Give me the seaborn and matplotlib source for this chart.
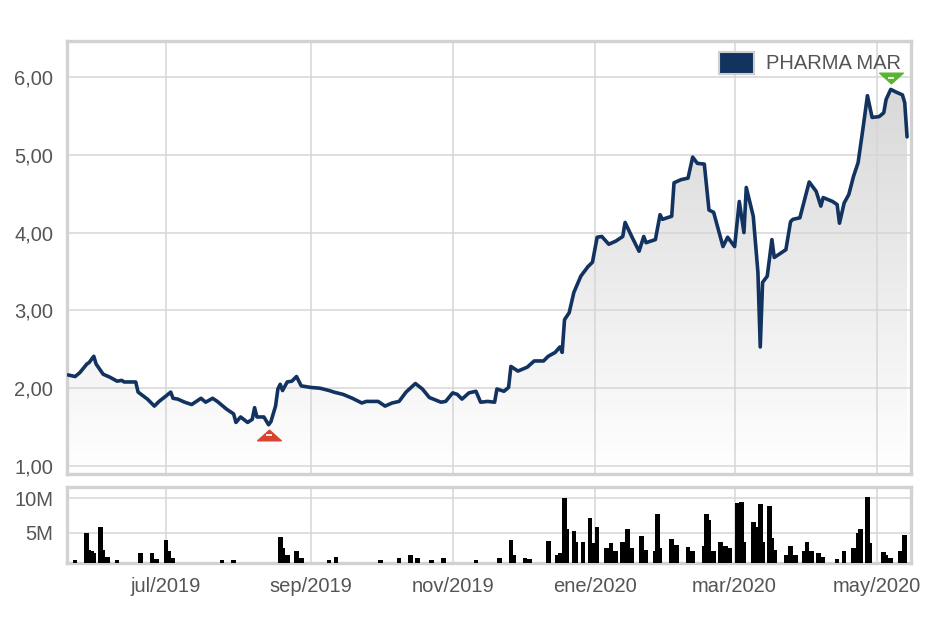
import numpy as np
import pandas as pd
import matplotlib
matplotlib.use("Agg")
import matplotlib.pyplot as plt
import matplotlib.dates as mdates
import matplotlib.transforms as mtransforms
from matplotlib.patches import Patch, PathPatch
from matplotlib.path import Path
from matplotlib.colors import LinearSegmentedColormap
from matplotlib.ticker import FixedLocator, FixedFormatter
import seaborn as sns

# ---------------- data ----------------
price_dates = [
    "2019-05-20", "2019-05-23", "2019-05-25", "2019-05-28", "2019-05-29", "2019-05-31", "2019-06-01",
    "2019-06-04", "2019-06-07", "2019-06-10", "2019-06-12", "2019-06-13", "2019-06-18", "2019-06-19",
    "2019-06-23", "2019-06-26", "2019-06-28", "2019-07-01", "2019-07-03", "2019-07-04", "2019-07-06",
    "2019-07-09", "2019-07-12", "2019-07-16", "2019-07-18", "2019-07-21", "2019-07-23", "2019-07-27",
    "2019-07-30", "2019-07-31", "2019-08-02", "2019-08-05", "2019-08-07", "2019-08-08", "2019-08-09",
    "2019-08-12", "2019-08-14", "2019-08-15", "2019-08-17", "2019-08-18", "2019-08-19", "2019-08-20",
    "2019-08-22", "2019-08-24", "2019-08-26", "2019-08-28", "2019-09-01", "2019-09-05", "2019-09-09",
    "2019-09-11", "2019-09-15", "2019-09-19", "2019-09-23", "2019-09-25", "2019-09-30", "2019-10-03",
    "2019-10-06", "2019-10-09", "2019-10-12", "2019-10-16", "2019-10-19", "2019-10-22", "2019-10-27",
    "2019-10-29", "2019-11-01", "2019-11-03", "2019-11-05", "2019-11-08", "2019-11-11", "2019-11-13",
    "2019-11-16", "2019-11-19", "2019-11-20", "2019-11-23", "2019-11-25", "2019-11-26", "2019-11-29",
    "2019-12-03", "2019-12-06", "2019-12-10", "2019-12-12", "2019-12-15", "2019-12-17", "2019-12-18",
    "2019-12-19", "2019-12-21", "2019-12-23", "2019-12-26", "2019-12-29", "2019-12-31", "2020-01-02",
    "2020-01-04", "2020-01-07", "2020-01-10", "2020-01-13", "2020-01-14", "2020-01-17", "2020-01-20",
    "2020-01-22", "2020-01-23", "2020-01-27", "2020-01-29", "2020-01-30", "2020-02-03", "2020-02-04",
    "2020-02-07", "2020-02-10", "2020-02-12", "2020-02-14", "2020-02-17", "2020-02-19", "2020-02-21",
    "2020-02-25", "2020-02-27", "2020-03-01", "2020-03-03", "2020-03-05", "2020-03-06", "2020-03-09",
    "2020-03-11", "2020-03-12", "2020-03-13", "2020-03-15", "2020-03-17", "2020-03-18", "2020-03-20",
    "2020-03-23", "2020-03-25", "2020-03-26", "2020-03-29", "2020-04-02", "2020-04-05", "2020-04-07",
    "2020-04-08", "2020-04-12", "2020-04-14", "2020-04-15", "2020-04-17", "2020-04-19", "2020-04-21",
    "2020-04-23", "2020-04-25", "2020-04-27", "2020-04-29", "2020-05-02", "2020-05-04", "2020-05-05",
    "2020-05-07", "2020-05-09", "2020-05-12", "2020-05-13", "2020-05-14",
]
price_values = [
    2.17, 2.15, 2.20, 2.31, 2.33, 2.41, 2.31,
    2.18, 2.14, 2.09, 2.10, 2.08, 2.08, 1.95,
    1.86, 1.77, 1.83, 1.90, 1.95, 1.87, 1.86,
    1.82, 1.79, 1.87, 1.82, 1.87, 1.83, 1.73,
    1.67, 1.56, 1.63, 1.56, 1.60, 1.75, 1.63,
    1.63, 1.53, 1.57, 1.77, 1.99, 2.05, 1.97,
    2.08, 2.09, 2.15, 2.03, 2.01, 2.00, 1.97,
    1.95, 1.92, 1.87, 1.81, 1.83, 1.83, 1.77,
    1.81, 1.83, 1.95, 2.06, 1.99, 1.88, 1.82,
    1.83, 1.94, 1.92, 1.86, 1.94, 1.96, 1.82,
    1.83, 1.82, 1.99, 1.96, 2.01, 2.28, 2.22,
    2.27, 2.35, 2.35, 2.41, 2.46, 2.53, 2.46,
    2.88, 2.97, 3.23, 3.44, 3.56, 3.62, 3.94,
    3.95, 3.85, 3.89, 3.95, 4.13, 3.94, 3.76,
    3.95, 3.87, 3.91, 4.23, 4.17, 4.21, 4.64,
    4.68, 4.70, 4.97, 4.89, 4.88, 4.29, 4.26,
    3.82, 3.94, 3.82, 4.40, 4.00, 4.58, 4.21,
    3.49, 2.53, 3.36, 3.44, 3.91, 3.68, 3.72,
    3.78, 4.14, 4.17, 4.19, 4.65, 4.53, 4.34,
    4.45, 4.40, 4.36, 4.12, 4.38, 4.49, 4.72,
    4.90, 5.32, 5.76, 5.48, 5.49, 5.54, 5.71,
    5.84, 5.81, 5.77, 5.67, 5.23,
]

vol_dates = [
    "2019-05-23", "2019-05-28", "2019-05-29", "2019-05-30", "2019-05-31", "2019-06-03", "2019-06-04",
    "2019-06-06", "2019-06-10", "2019-06-20", "2019-06-25", "2019-06-27", "2019-07-01", "2019-07-02",
    "2019-07-04", "2019-07-25", "2019-07-30", "2019-08-19", "2019-08-20", "2019-08-22", "2019-08-26",
    "2019-08-28", "2019-09-09", "2019-09-12", "2019-10-01", "2019-10-09", "2019-10-14", "2019-10-17",
    "2019-10-23", "2019-10-28", "2019-11-11", "2019-11-21", "2019-11-26", "2019-11-27", "2019-12-02",
    "2019-12-04", "2019-12-12", "2019-12-16", "2019-12-17", "2019-12-19", "2019-12-20", "2019-12-23",
    "2019-12-24", "2019-12-27", "2019-12-30", "2019-12-31", "2020-01-02", "2020-01-06", "2020-01-08",
    "2020-01-10", "2020-01-13", "2020-01-15", "2020-01-17", "2020-01-21", "2020-01-23", "2020-01-27",
    "2020-01-28", "2020-01-29", "2020-02-03", "2020-02-05", "2020-02-10", "2020-02-12", "2020-02-17",
    "2020-02-18", "2020-02-19", "2020-02-21", "2020-02-24", "2020-02-26", "2020-02-28", "2020-03-02",
    "2020-03-03", "2020-03-04", "2020-03-05", "2020-03-09", "2020-03-10", "2020-03-12", "2020-03-13",
    "2020-03-16", "2020-03-17", "2020-03-18", "2020-03-23", "2020-03-25", "2020-03-27", "2020-03-31",
    "2020-04-01", "2020-04-03", "2020-04-06", "2020-04-08", "2020-04-14", "2020-04-17", "2020-04-21",
    "2020-04-23", "2020-04-24", "2020-04-27", "2020-04-28", "2020-05-04", "2020-05-05", "2020-05-07",
    "2020-05-11", "2020-05-13",
]
vol_millions = [
    1.1, 4.9, 2.5, 2.3, 2.0, 5.9, 2.5,
    1.5, 1.1, 2.1, 2.1, 1.2, 3.9, 2.3,
    1.3, 1.0, 1.0, 4.4, 2.8, 1.8, 2.3,
    1.3, 1.0, 1.5, 1.0, 1.3, 1.7, 1.3,
    1.0, 1.3, 1.0, 1.3, 3.9, 1.8, 1.3,
    1.2, 3.8, 1.8, 2.0, 10.1, 5.5, 5.3,
    3.7, 3.7, 7.1, 3.5, 5.9, 2.8, 3.5,
    2.3, 3.7, 5.5, 2.8, 4.5, 2.5, 2.3,
    7.7, 2.8, 4.1, 3.2, 2.9, 2.4, 3.0,
    7.7, 6.9, 2.3, 3.7, 3.1, 2.8, 9.3,
    5.0, 9.5, 3.7, 6.6, 5.9, 9.2, 3.7,
    8.9, 4.2, 2.5, 1.7, 3.0, 1.8, 2.3,
    3.7, 2.3, 2.0, 1.5, 1.2, 2.3, 2.8,
    4.9, 5.5, 10.2, 3.5, 2.2, 1.7, 1.3,
    2.3, 4.7,
]

series_name = "PHARMA MAR"
price_ticks = [1, 2, 3, 4, 5, 6]
price_tick_labels = ["1,00", "2,00", "3,00", "4,00", "5,00", "6,00"]
vol_ticks = [5, 10]
vol_tick_labels = ["5M", "10M"]
month_ticks = ["2019-07-01", "2019-09-01", "2019-11-01", "2020-01-01", "2020-03-01", "2020-05-01"]
month_labels = ["jul/2019", "sep/2019", "nov/2019", "ene/2020", "mar/2020", "may/2020"]

# ---------------- style ----------------
LINE = "#12335f"
GRID = "#d6d6d6"
FRAME = "#d2d2d2"
TXT = "#555555"

sns.set_theme(style="white")
plt.rcParams["font.family"] = ["Liberation Sans", "DejaVu Sans"]

fig = plt.figure(figsize=(9.28, 6.21), dpi=100)
ax = fig.add_axes([0.0717, 0.2367, 0.9100, 0.6965])
axv = fig.add_axes([0.0717, 0.0934, 0.9100, 0.1216], sharex=ax)

df = pd.DataFrame({"fecha": pd.to_datetime(price_dates), "precio": price_values})
dfv = pd.DataFrame({"fecha": pd.to_datetime(vol_dates), "volumen": vol_millions})

YMIN, YMAX = 0.897, 6.456
ref = mdates.date2num(pd.Timestamp("2019-07-01"))
XMIN, XMAX = ref - 42.7, ref + 319.7

# gradient area under the line
xnum = mdates.date2num(df["fecha"])
poly = ax.fill_between(xnum, df["precio"], YMIN, facecolor="none", edgecolor="none")
clip = PathPatch(poly.get_paths()[0], transform=ax.transData, facecolor="none", edgecolor="none")
ax.add_patch(clip)
cmap = LinearSegmentedColormap.from_list("g", ["#ffffff", "#d4d4d4"])
grad = np.linspace(1, 0, 256).reshape(-1, 1)
im = ax.imshow(grad, cmap=cmap, vmin=0, vmax=1, extent=[XMIN, XMAX, YMIN, YMAX],
               aspect="auto", origin="upper", zorder=0.3, interpolation="bilinear")
im.set_clip_path(clip)

sns.lineplot(data=df, x="fecha", y="precio", ax=ax, color=LINE, linewidth=2.6,
             legend=False, zorder=5, solid_joinstyle="round", solid_capstyle="round")

# min / max markers
tri_up = Path([(-1, -0.45), (1, -0.45), (0, 0.45), (-1, -0.45)],
              [Path.MOVETO, Path.LINETO, Path.LINETO, Path.CLOSEPOLY])
tri_dn = Path([(-1, 0.45), (1, 0.45), (0, -0.45), (-1, 0.45)],
              [Path.MOVETO, Path.LINETO, Path.LINETO, Path.CLOSEPOLY])
imin = int(np.argmin(price_values))
imax = int(np.argmax(price_values))
t_dn = mtransforms.offset_copy(ax.transData, fig=fig, x=0, y=-7.5, units="points")
t_up = mtransforms.offset_copy(ax.transData, fig=fig, x=0, y=8.2, units="points")
ax.plot([df["fecha"][imin]], [price_values[imin]], marker=tri_up, markersize=17,
        color="#d8432f", transform=t_dn, zorder=6, linestyle="none")
ax.plot([df["fecha"][imin]], [price_values[imin]], marker="_", markersize=4,
        markeredgewidth=1.2, color="white", transform=t_dn, zorder=7, linestyle="none")
ax.plot([df["fecha"][imax]], [price_values[imax]], marker=tri_dn, markersize=17,
        color="#5bb431", transform=t_up, zorder=6, linestyle="none", clip_on=False)
ax.plot([df["fecha"][imax]], [price_values[imax]], marker="_", markersize=4,
        markeredgewidth=1.2, color="white", transform=t_up, zorder=7, linestyle="none",
        clip_on=False)

# volume bars
axv.bar(dfv["fecha"], dfv["volumen"], width=2.0, color="black", linewidth=0, zorder=3)

# axes setup
for a in (ax, axv):
    a.set_xlim(XMIN, XMAX)
    a.grid(True, color=GRID, linewidth=1.1)
    a.set_axisbelow(True)
    a.set_xlabel("")
    a.set_ylabel("")
    for s in a.spines.values():
        s.set_visible(True)
        s.set_color(FRAME)
        s.set_linewidth(2.4)
    a.tick_params(length=0, labelsize=14.5, labelcolor=TXT, pad=9.5)
    a.xaxis.set_major_locator(FixedLocator(mdates.date2num(pd.to_datetime(month_ticks))))

ax.set_ylim(YMIN, YMAX)
ax.yaxis.set_major_locator(FixedLocator(price_ticks))
ax.yaxis.set_major_formatter(FixedFormatter(price_tick_labels))
ax.tick_params(labelbottom=False)

axv.set_ylim(0.6, 11.57)
axv.yaxis.set_major_locator(FixedLocator(vol_ticks))
axv.yaxis.set_major_formatter(FixedFormatter(vol_tick_labels))
axv.xaxis.set_major_formatter(FixedFormatter(month_labels))
axv.tick_params(axis="x", pad=10)

leg = ax.legend(handles=[Patch(facecolor=LINE, edgecolor="#cfcfcf", linewidth=1.5)],
                labels=[series_name], loc="upper right", bbox_to_anchor=(1.0, 1.0),
                frameon=False, fontsize=14.5, labelcolor=TXT, handlelength=1.75,
                handleheight=1.3, handletextpad=0.6, borderaxespad=0.2, borderpad=0.3)

fig.savefig("out.png", dpi=100)
